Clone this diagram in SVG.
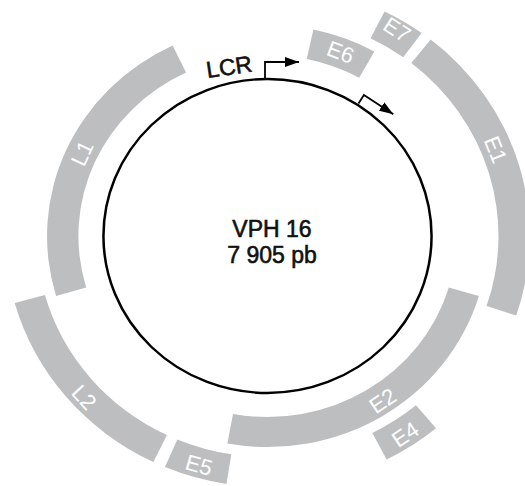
<svg xmlns="http://www.w3.org/2000/svg" width="525" height="486" viewBox="0 0 525 486">
  <style>
    .band { fill: #bdbec0; }
    .lbl { font-family: "Liberation Sans", Arial, sans-serif; font-size: 22px; fill: #ffffff; text-anchor: middle; }
    .txt { font-family: "Liberation Sans", Arial, sans-serif; fill: #111111; stroke: #111111; stroke-width: 0.6; text-anchor: middle; }
    .ln { fill: none; stroke: #000000; stroke-width: 1.8; }
  </style>
  <defs>
    <marker id="head" viewBox="0 0 14 10" refX="14" refY="5" markerWidth="14" markerHeight="10" markerUnits="userSpaceOnUse" orient="auto">
      <path d="M0 0 L14 5 L0 10 Z" fill="#000000"/>
    </marker>
  </defs>
  <rect width="525" height="486" fill="#ffffff"/>

  <!-- genome circle and gene bands, drawn in polar space around the centre -->
  <g transform="translate(267.5 236) scale(1.045 1)">
    <g id="genome">
      <circle cx="0" cy="0" r="157" fill="none" stroke="#000000" stroke-width="2.4"/>
    </g>
    <g id="L1"><path class="band" d="M-202.3 59.9 A211 211 0 0 1 -90.8 -190.4 L-77.9 -163.4 A181 181 0 0 0 -173.5 51.4 Z"/></g>
    <g id="E6"><path class="band" d="M43.9 -206.4 A211 211 0 0 1 102.3 -184.5 L87.7 -158.3 A181 181 0 0 0 37.6 -177.0 Z"/></g>
    <g id="E2"><path class="band" d="M202.3 59.9 A211 211 0 0 1 -38.4 207.5 L-33.0 178.0 A181 181 0 0 0 173.5 51.4 Z"/></g>
    <g id="E7"><path class="band" d="M112.0 -224.6 A251 251 0 0 1 147.5 -203.1 L129.9 -178.8 A221 221 0 0 0 98.6 -197.8 Z"/></g>
    <g id="E1"><path class="band" d="M156.2 -196.4 A251 251 0 0 1 238.0 79.6 L209.6 70.1 A221 221 0 0 0 137.6 -173.0 Z"/></g>
    <g id="E4"><path class="band" d="M161.3 192.3 A251 251 0 0 1 114.0 223.6 L100.3 196.9 A221 221 0 0 0 142.1 169.3 Z"/></g>
    <g id="E5"><path class="band" d="M-39.3 247.9 A251 251 0 0 1 -98.1 231.0 L-86.3 203.4 A221 221 0 0 0 -34.6 218.3 Z"/></g>
    <g id="L2"><path class="band" d="M-109.2 226.0 A251 251 0 0 1 -241.9 67.1 L-213.0 59.1 A221 221 0 0 0 -96.2 199.0 Z"/></g>
  </g>

  <!-- gene labels -->
  <g id="labels">
    <text class="lbl" transform="translate(81.9 153.2) rotate(-65)" dy="0.36em">L1</text>
    <text class="lbl" transform="translate(340.6 51.8) rotate(20.8)" dy="0.36em">E6</text>
    <text class="lbl" transform="translate(397.2 29.4) rotate(33)" dy="0.36em">E7</text>
    <text class="lbl" transform="translate(495.8 149.5) rotate(68.4)" dy="0.36em">E1</text>
    <text class="lbl" transform="translate(382.6 400.5) rotate(-33.8)" dy="0.36em">E2</text>
    <text class="lbl" transform="translate(405.1 434.2) rotate(-33.6)" dy="0.36em">E4</text>
    <text class="lbl" transform="translate(199 464.8) rotate(16)" dy="0.36em">E5</text>
    <text class="lbl" transform="translate(84.4 397.1) rotate(47.4)" dy="0.36em">L2</text>
  </g>

  <!-- promoter arrows -->
  <g id="connectors">
    <path class="ln" d="M265 79 V62 H299" marker-end="url(#head)"/>
    <g transform="translate(358.5 103.5) rotate(33)">
      <path class="ln" d="M0 0 V-10 H35" marker-end="url(#head)"/>
    </g>
  </g>

  <g id="lcr">
    <text class="txt" font-size="23" transform="translate(229 66.5) rotate(-8.5)" dy="0.36em">LCR</text>
  </g>

  <g id="title">
    <text class="txt" font-size="23" x="272" y="236.7">VPH 16</text>
    <text class="txt" font-size="23" x="272" y="263.3">7 905 pb</text>
  </g>
</svg>
